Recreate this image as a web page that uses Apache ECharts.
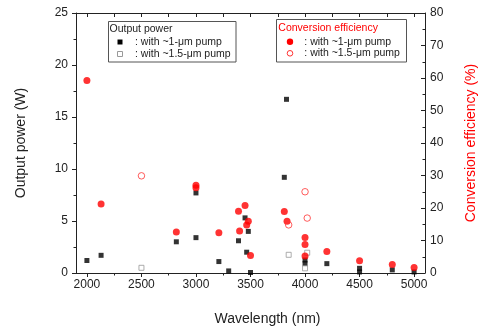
<!DOCTYPE html>
<html>
<head>
<meta charset="utf-8">
<script src="https://cdn.jsdelivr.net/npm/echarts@6/dist/echarts.min.js"></script>
<style>
html,body{margin:0;padding:0;background:#fff;}
#c{width:486px;height:331px;}
</style>
</head>
<body>
<div id="c"></div>
<script>
// Output power, ~1-um pump
var power1Wl = [2000, 2130, 2820, 3000, 3000, 3210, 3300, 3390, 3450, 3465, 3480, 3500, 3810, 3830, 4000, 4000, 4200, 4500, 4500, 4800, 5000];
var power1   = [1.2, 1.7, 3.0, 3.4, 7.7, 1.1, 0.2, 3.1, 5.3, 2.0, 4.0, 0.05, 9.2, 16.7, 1.25, 0.9, 0.9, 0.45, 0.1, 0.3, 0.1];
// Output power, ~1.5-um pump
var power2Wl = [2500, 3850, 4000, 4020];
var power2   = [0.5, 1.75, 0.45, 1.95];
// Conversion efficiency, ~1-um pump
var eff1Wl = [2000, 2130, 2820, 3000, 3000, 3210, 3390, 3400, 3450, 3465, 3480, 3500, 3810, 3835, 4000, 4000, 4000, 4200, 4500, 4800, 5000];
var eff1   = [59.2, 21.2, 12.6, 27.0, 26.2, 12.4, 19.0, 12.9, 20.8, 14.8, 15.9, 5.4, 18.9, 15.9, 10.9, 8.8, 5.2, 6.6, 3.8, 2.6, 1.7];
// Conversion efficiency, ~1.5-um pump
var eff2Wl = [2500, 3850, 4000, 4020];
var eff2   = [29.9, 14.8, 25.0, 16.9];

var xMajor = [2000, 2500, 3000, 3500, 4000, 4500, 5000];
var xMinor = [2250, 2750, 3250, 3750, 4250, 4750];
var xTop = [2000, 2250, 2500, 2750, 3000, 3250, 3500, 3750, 4000, 4250, 4500, 4750, 5000];

function zip(a, b) { return a.map(function (v, i) { return [v, b[i]]; }); }

var FONT = "'Liberation Sans', Arial, sans-serif";
var chart = echarts.init(document.getElementById('c'), null, {renderer: 'canvas'});
var axisLineStyle = {color: '#222', width: 1};

chart.setOption({
  animation: false,
  backgroundColor: '#fff',
  textStyle: {fontFamily: FONT},
  grid: {left: 76, right: 55, top: 13, bottom: 57, containLabel: false},
  xAxis: [
    {
      type: 'value', min: 1900, max: 5100, position: 'bottom',
      axisLine: {show: true, onZero: false, lineStyle: axisLineStyle},
      axisTick: {show: true, inside: false, length: 4, customValues: xMajor, lineStyle: axisLineStyle},
      axisLabel: {customValues: xMajor, color: '#222', fontSize: 12, fontFamily: FONT, margin: 6,
        formatter: function (v) { return String(v); }},
      splitLine: {show: false},
      name: 'Wavelength (nm)', nameLocation: 'middle', nameGap: 39,
      nameTextStyle: {fontSize: 14, color: '#222', fontFamily: FONT, padding: [0, 0, 0, 34]}
    },
    {
      type: 'value', min: 1900, max: 5100, position: 'top',
      axisLine: {show: true, onZero: false, lineStyle: axisLineStyle},
      axisTick: {show: true, inside: true, length: 4, customValues: xTop, lineStyle: axisLineStyle},
      axisLabel: {show: false},
      splitLine: {show: false}
    },
    {
      type: 'value', min: 1900, max: 5100, position: 'bottom',
      axisLine: {show: false, onZero: false},
      axisTick: {show: true, inside: false, length: 2.5, customValues: xMinor, lineStyle: axisLineStyle},
      axisLabel: {show: false},
      splitLine: {show: false}
    }
  ],
  yAxis: [
    {
      type: 'value', min: 0, max: 25, interval: 5, position: 'left',
      axisLine: {show: true, onZero: false, lineStyle: axisLineStyle},
      axisTick: {show: true, inside: false, length: 4, lineStyle: axisLineStyle},
      minorTick: {show: true, splitNumber: 2, length: 2.5, lineStyle: axisLineStyle},
      axisLabel: {color: '#222', fontSize: 12, fontFamily: FONT, margin: 8},
      splitLine: {show: false},
      name: 'Output power (W)', nameLocation: 'middle', nameGap: 48,
      nameTextStyle: {fontSize: 14, color: '#222', fontFamily: FONT}
    },
    {
      type: 'value', min: 0, max: 80, interval: 10, position: 'right',
      axisLine: {show: true, onZero: false, lineStyle: axisLineStyle},
      axisTick: {show: true, inside: true, length: 4, lineStyle: axisLineStyle},
      minorTick: {show: true, splitNumber: 2, length: 2.5, lineStyle: axisLineStyle},
      axisLabel: {color: '#222', fontSize: 12, fontFamily: FONT, margin: 5},
      splitLine: {show: false},
      name: 'Conversion efficiency (%)', nameLocation: 'middle', nameGap: 39,
      nameTextStyle: {fontSize: 14, color: '#ff0000', fontFamily: FONT}
    }
  ],
  series: [
    {
      name: 'power1', type: 'scatter', xAxisIndex: 0, yAxisIndex: 0,
      symbol: 'rect', symbolSize: 5, data: zip(power1Wl, power1),
      itemStyle: {color: '#000'}, z: 2
    },
    {
      name: 'power2', type: 'scatter', xAxisIndex: 0, yAxisIndex: 0,
      symbol: 'rect', symbolSize: 5, data: zip(power2Wl, power2),
      itemStyle: {color: '#fff', borderColor: '#999', borderWidth: 1}, z: 2
    },
    {
      name: 'eff1', type: 'scatter', xAxisIndex: 0, yAxisIndex: 1,
      symbol: 'circle', symbolSize: 7, data: zip(eff1Wl, eff1),
      itemStyle: {color: '#ff0000'}, z: 3
    },
    {
      name: 'eff2', type: 'scatter', xAxisIndex: 0, yAxisIndex: 1,
      symbol: 'circle', symbolSize: 6.5, data: zip(eff2Wl, eff2),
      itemStyle: {color: 'rgba(255,255,255,0)', borderColor: '#ff3333', borderWidth: 1}, z: 3
    }
  ],
  graphic: [
    // Output power legend
    {type: 'rect', shape: {x: 108.5, y: 21.5, width: 127.5, height: 40.5}, style: {fill: '#fff', stroke: '#555', lineWidth: 1}, z: 10},
    {type: 'text', x: 109.5, y: 29, style: {text: 'Output power', fill: '#222', font: '10.5px ' + FONT, textVerticalAlign: 'middle'}, z: 11},
    {type: 'rect', shape: {x: 117.5, y: 39.5, width: 5, height: 5}, style: {fill: '#000'}, z: 11},
    {type: 'text', x: 135, y: 42.3, style: {text: ': with ~1-μm pump', fill: '#222', font: '10.5px ' + FONT, textVerticalAlign: 'middle'}, z: 11},
    {type: 'rect', shape: {x: 117.5, y: 51.5, width: 5, height: 5}, style: {fill: '#fff', stroke: '#999', lineWidth: 1}, z: 11},
    {type: 'text', x: 135, y: 54.3, style: {text: ': with ~1.5-μm pump', fill: '#222', font: '10.5px ' + FONT, textVerticalAlign: 'middle'}, z: 11},
    // Conversion efficiency legend
    {type: 'rect', shape: {x: 276.5, y: 19.5, width: 130, height: 42.5}, style: {fill: '#fff', stroke: '#555', lineWidth: 1}, z: 10},
    {type: 'text', x: 278.3, y: 28.3, style: {text: 'Conversion efficiency', fill: '#ff0000', font: '10.5px ' + FONT, textVerticalAlign: 'middle'}, z: 11},
    {type: 'circle', shape: {cx: 290, cy: 41.8, r: 3.2}, style: {fill: '#ff0000'}, z: 11},
    {type: 'text', x: 304.3, y: 42.3, style: {text: ': with ~1-μm pump', fill: '#222', font: '10.5px ' + FONT, textVerticalAlign: 'middle'}, z: 11},
    {type: 'circle', shape: {cx: 290, cy: 53.3, r: 2.8}, style: {fill: '#fff', stroke: '#ff3333', lineWidth: 1}, z: 11},
    {type: 'text', x: 304.3, y: 53.3, style: {text: ': with ~1.5-μm pump', fill: '#222', font: '10.5px ' + FONT, textVerticalAlign: 'middle'}, z: 11}
  ]
});
</script>
</body>
</html>
